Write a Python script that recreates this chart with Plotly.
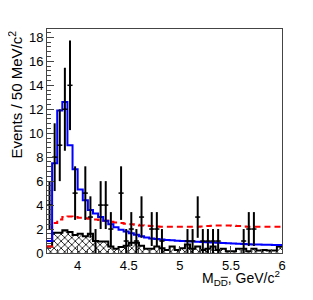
import numpy as np
import plotly.graph_objects as go

# ---- data (50 MeV bins starting at 3.70 GeV) ----
bin_start = 3.70
bin_width = 0.05

data_counts = [4, 8, 9, 12, 14, 5, 0, 5, 3, 1,
               4, 4, 2, 0, 5, 1, 2, 1, 3, 0,
               2, 2, 1, 0, 0, 0, 0, 1, 1, 3,
               1, 1, 1, 1, 0, 0, 0, 0, 1, 2,
               2, 0, 0, 0, 0, 0]

fit_total = [1.0, 7.5, 11.9, 12.6, 9.0, 7.0, 5.3, 4.4, 3.6, 3.3,
             3.0, 2.7, 2.4, 2.15, 1.95, 1.8, 1.65, 1.52, 1.4, 1.3,
             1.22, 1.17, 1.13, 1.09, 1.06, 1.03, 1.0, 0.98, 0.96, 0.94,
             0.92, 0.9, 0.88, 0.86, 0.84, 0.82, 0.8, 0.78, 0.76, 0.74,
             0.72, 0.7, 0.69, 0.68, 0.67, 0.66]

fit_bkg = [0.55, 2.5, 2.8, 3.0, 3.05, 3.0, 2.95, 2.9, 2.85, 2.8,
           2.75, 2.7, 2.6, 2.55, 2.5, 2.45, 2.4, 2.35, 2.3, 2.27,
           2.25, 2.22, 2.2, 2.2, 2.2, 2.2, 2.2, 2.2, 2.2, 2.2,
           2.22, 2.25, 2.28, 2.3, 2.3, 2.3, 2.28, 2.25, 2.22, 2.2,
           2.2, 2.2, 2.2, 2.2, 2.2, 2.2]

sideband_bkg = [0.55, 1.7, 1.7, 1.9, 1.75, 1.5, 1.6, 1.4, 1.6, 1.0,
                0.95, 0.95, 0.55, 0.35, 0.5, 0.6, 0.85, 0.85, 0.6, 0.35,
                0.35, 0.55, 0.4, 0.25, 0.55, 0.25, 0.4, 0.7, 0.35, 0.55,
                0.25, 0.35, 0.55, 0.25, 0.35, 0.15, 0.15, 0.35, 0.35, 0.15,
                0.35, 0.2, 0.25, 0.2, 0.2, 0.55]

x_ticks = [4, 4.5, 5, 5.5, 6]
x_tick_labels = ["4", "4.5", "5", "5.5", "6"]
y_ticks = [0, 2, 4, 6, 8, 10, 12, 14, 16, 18]

# ---- derived ----
n = len(data_counts)
edges = bin_start + bin_width * np.arange(n + 1)
centers = edges[:-1] + bin_width / 2


def stepped(vals):
    v = list(vals)
    return edges, v + [v[-1]]


counts = np.array(data_counts, dtype=float)
nz = counts > 0

FONT = "Liberation Sans, Arial, sans-serif"

fig = go.Figure()

# hatched sideband background histogram
sx, sy = stepped(sideband_bkg)
fig.add_trace(go.Scatter(
    x=sx, y=sy, mode="lines", line_shape="hv",
    line=dict(color="black", width=2),
    fill="tozeroy", fillcolor="white",
    fillpattern=dict(shape="x", fgcolor="black", bgcolor="white",
                     size=5, solidity=0.3, fillmode="replace"),
    hoverinfo="skip", showlegend=False))

# red dashed fit background
rx, ry = stepped(fit_bkg)
fig.add_trace(go.Scatter(
    x=rx, y=ry, mode="lines", line_shape="hv",
    line=dict(color="#ff0000", width=2, dash="6px,4px"),
    hoverinfo="skip", showlegend=False))

# blue total fit
bx, by = stepped(fit_total)
fig.add_trace(go.Scatter(
    x=bx, y=by, mode="lines", line_shape="hv",
    line=dict(color="#0000ff", width=2),
    hoverinfo="skip", showlegend=False))

# data points with errors
fig.add_trace(go.Scatter(
    x=centers[nz], y=counts[nz], mode="markers",
    marker=dict(color="black", size=2),
    error_y=dict(type="data", array=np.sqrt(counts[nz]), color="black",
                 thickness=2, width=0),
    error_x=dict(type="constant", value=bin_width / 2, color="black",
                 thickness=1.5, width=0),
    hoverinfo="skip", showlegend=False))

axis_common = dict(
    showgrid=False, zeroline=False, showline=True, mirror=True,
    linecolor="#444", linewidth=1, ticks="inside", ticklen=7,
    tickcolor="#444", tickwidth=1,
    tickfont=dict(family=FONT, size=13, color="black"),
)

fig.update_xaxes(range=[bin_start, 6.0], tickvals=x_ticks,
                 ticktext=x_tick_labels,
                 minor=dict(ticks="inside", ticklen=4, dtick=0.1,
                            tickcolor="#444"),
                 **axis_common)
fig.update_yaxes(range=[0, 18.7], tickvals=y_ticks,
                 minor=dict(ticks="inside", ticklen=4, dtick=0.4,
                            tickcolor="#444"),
                 **axis_common)

fig.add_annotation(
    text="Events / 50 MeV/c<sup>2</sup>", textangle=-90,
    xref="paper", yref="paper", x=-0.138, y=1.0,
    xanchor="center", yanchor="top", showarrow=False,
    font=dict(family=FONT, size=15, color="black"))

fig.add_annotation(
    text=("M<sub>D<span style=\"text-decoration:overline\">D</span></sub>"
          ", GeV/c<sup>2</sup>"),
    xref="paper", yref="paper", x=1.0, y=-0.11,
    xanchor="right", yanchor="middle", showarrow=False,
    font=dict(family=FONT, size=14, color="black"))

# page body has an 8px default margin; size/margins compensate for it
fig.update_layout(
    width=305, height=292,
    margin=dict(l=39, r=31, t=21, b=47),
    paper_bgcolor="white", plot_bgcolor="white",
    showlegend=False,
)

fig.write_html("out.html")
